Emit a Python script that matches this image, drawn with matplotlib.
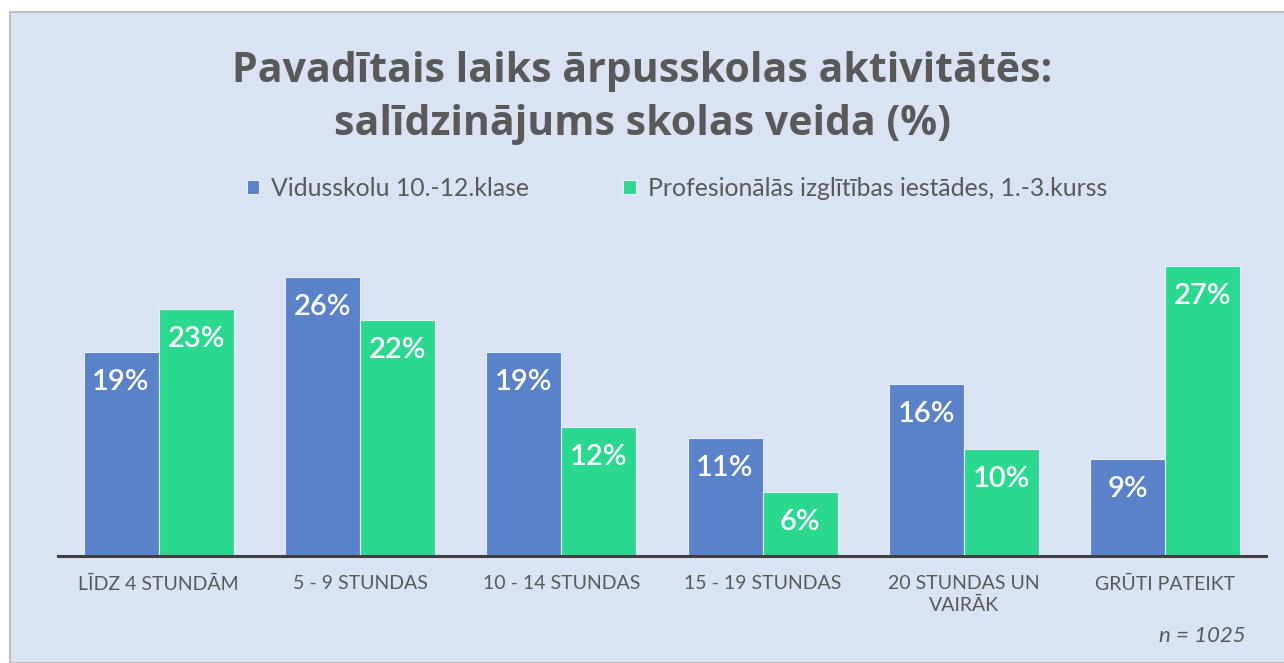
import matplotlib
matplotlib.use("Agg")
import matplotlib.pyplot as plt
from matplotlib.patches import Rectangle
import numpy as np

categories = ["LĪDZ 4 STUNDĀM", "5 - 9 STUNDAS", "10 - 14 STUNDAS", "15 - 19 STUNDAS",
              "20 STUNDAS UN\nVAIRĀK", "GRŪTI PATEIKT"]
series_names = ["Vidusskolu 10.-12.klase", "Profesionālās izglītības iestādes, 1.-3.kurss"]
vidusskolu = [19, 26, 19, 11, 16, 9]
profesionalas = [23, 22, 12, 6, 10, 27]

BG = "#DAE3F3"
BLUE = "#5A82C9"
GREEN = "#2AD98F"
TXT = "#595959"

W, H = 1284, 663
fig = plt.figure(figsize=(W / 100, H / 100), dpi=100)
fig.patch.set_facecolor("white")
fig.patches.append(Rectangle((10 / W, 0), 1.2, (H - 12) / H, transform=fig.transFigure,
                             facecolor=BG, edgecolor="#BFBFBF", linewidth=1.5, zorder=-10))

ax = fig.add_axes([58 / W, (H - 556) / H, (1266 - 58) / W, (556 - 240) / H])
ax.set_facecolor("none")
x = np.arange(len(categories))
bw = 0.373
b1 = ax.bar(x - bw / 2, vidusskolu, bw, color=BLUE, edgecolor="#E8EEF8", linewidth=0.8)
b2 = ax.bar(x + bw / 2, profesionalas, bw, color=GREEN, edgecolor="#E8EEF8", linewidth=0.8)
ax.set_xlim(-0.5, 5.5)
ax.set_ylim(0, 29.4)

for bars, vals in ((b1, vidusskolu), (b2, profesionalas)):
    for r, v in zip(bars, vals):
        ax.annotate(f"{v}%", (r.get_x() + r.get_width() / 2, v), xytext=(0, -30),
                    textcoords="offset pixels", ha="center", va="center",
                    color="white", fontsize=21, fontweight="semibold", family="Lato")

for s in ("top", "right", "left"):
    ax.spines[s].set_visible(False)
ax.spines["bottom"].set_color("#404040")
ax.spines["bottom"].set_linewidth(2.2)
ax.set_yticks([])
ax.set_xticks(x)
ax.set_xticklabels(categories, fontsize=14, color=TXT, family="Lato", linespacing=1.3)
ax.tick_params(axis="x", length=0, pad=14)

fig.text(642 / W, 1 - 98 / H, "Pavadītais laiks ārpusskolas aktivitātēs:\nsalīdzinājums skolas veida (%)",
         ha="center", va="center", fontsize=29.5, fontweight="bold", color=TXT,
         family="Open Sans", linespacing=1.4)

leg = fig.legend([b1, b2], series_names, loc="center", bbox_to_anchor=(677 / W, 1 - 188 / H),
                 ncol=2, frameon=False, handlelength=0.5, handleheight=0.5,
                 handletextpad=0.5, columnspacing=3.8, prop={"family": "Lato", "size": 17.8})
for t in leg.get_texts():
    t.set_color(TXT)

fig.text(1246 / W, 1 - 636 / H, "n = 1025", ha="right", va="center", fontsize=16,
         style="italic", color=TXT, family="Lato")

fig.savefig("out.png", dpi=100, facecolor=fig.get_facecolor())
